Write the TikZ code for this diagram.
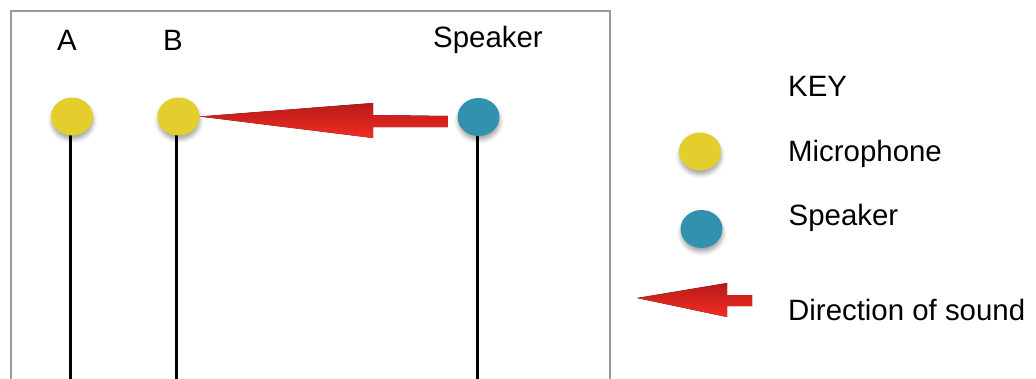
\documentclass[tikz,border=0pt]{standalone}
\usepackage{fontspec}
\setmainfont{Liberation Sans}
\usetikzlibrary{shapes.geometric,shadows.blur}
\definecolor{micyellow}{HTML}{E3CE2E}
\definecolor{spkblue}{HTML}{3191AF}
\definecolor{arrowdark}{HTML}{B51B17}
\definecolor{arrowlight}{HTML}{F52B24}
\definecolor{framegray}{HTML}{9A9A9A}
\tikzset{
  disc/.style={ellipse, inner sep=0pt, minimum width=42pt, minimum height=38pt,
    blur shadow={shadow xshift=0.5pt, shadow yshift=-4pt, shadow opacity=35, shadow blur radius=4pt}},
  mic/.style={disc, fill=micyellow},
  spk/.style={disc, fill=spkblue},
  lbl/.style={anchor=base west, inner sep=0pt, font=\fontsize{29.4}{35}\selectfont},
  stem/.style={line width=2.2pt, black},
  soundarrow/.style={top color=arrowdark, bottom color=arrowlight, draw=none},
}
\begin{document}
\begin{tikzpicture}[x=1pt,y=-1pt]
\useasboundingbox (0,0) rectangle (1036,378);
\clip (0,0) rectangle (1036,378);
\draw[framegray, line width=2pt] (10.5,390) -- (10.5,11) -- (610,11) -- (610,390);
% labels
\node[lbl] (la) at (57,50) {A};
\node[lbl] (lb) at (163,50) {B};
\node[lbl] (ls) at (433,47.7) {Speaker};
% stems
\coordinate (ba) at (70.5,385);
\coordinate (bb) at (176.5,385);
\coordinate (bs) at (477.5,385);
\draw[stem] (70.5,117) -- (ba);
\draw[stem] (176.5,117) -- (bb);
\draw[stem] (477.5,117) -- (bs);
% discs
\node[mic] (a) at (72,116.5) {};
\node[mic] (b) at (178.5,116.5) {};
\node[spk] (s) at (478.5,117) {};
% main arrow from speaker to B
\coordinate (shaftend) at ([xshift=-9.5pt]s.west);
\fill[soundarrow] (b.east) -- (373,103) -- (373,115) -- (shaftend |- 0,116) -- (shaftend |- 0,127) -- (373,127) -- (373,138) -- cycle;
% key
\node[lbl] (key) at (788,96) {KEY};
\node[mic] (kmic) at (700,151.5) {};
\node[lbl] (tmic) at (788,161) {Microphone};
\node[spk] (kspk) at (701.5,229) {};
\node[lbl] (tspk) at (788.5,225) {Speaker};
\coordinate (ktip) at (637,298);
\fill[soundarrow] (ktip) -- (727,283) -- (727,295) -- (752,295) -- (752,306) -- (727,306) -- (727,317) -- cycle;
\node[lbl] (tdir) at (788,320) {Direction of sound};
\end{tikzpicture}
\end{document}
